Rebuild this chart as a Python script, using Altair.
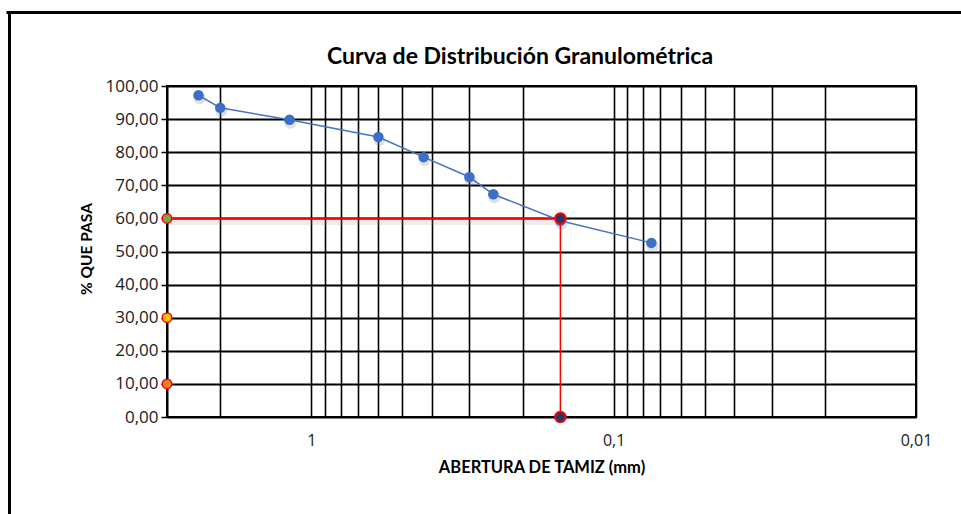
import altair as alt
import pandas as pd

# Sieve openings (mm) and % passing
sizes = [2.36, 2.0, 1.18, 0.6, 0.425, 0.30, 0.25, 0.15, 0.075]
passing = [97.2, 93.4, 89.8, 84.6, 78.5, 72.5, 67.3, 59.3, 52.6]

# D60 reference
d60_size = 0.15
d60_pct = 60
axis_left = 3.0
axis_right = 0.01

# reference markers on the left axis
ref_pct = [60, 30, 10]
ref_fill = ["#70AD47", "#FFC000", "#ED7D31"]

x_grid = [2, 1, 0.9, 0.8, 0.7, 0.6, 0.5, 0.4, 0.3, 0.2,
          0.1, 0.09, 0.08, 0.07, 0.06, 0.05, 0.04, 0.03, 0.02, 0.01]
y_ticks = list(range(0, 101, 10))

FONT = "Lato"
LFONT = "Open Sans"
W, H = 749, 331

x_enc = alt.X(
    "size:Q",
    scale=alt.Scale(type="log", domain=[axis_right, axis_left], reverse=True, nice=False),
    axis=alt.Axis(
        values=x_grid,
        labelExpr="datum.value == 1 ? '1' : datum.value == 0.1 ? '0,1' : datum.value == 0.01 ? '0,01' : ''",
        grid=True, gridColor="black", gridWidth=1.6, gridOpacity=1,
        ticks=False, tickSize=0, domain=False,
        labelFont=LFONT, labelFontSize=16, labelColor="#1a1a1a", labelPadding=15,
        labelFlush=False, labelOverlap=False,
        title="ABERTURA DE TAMIZ  (mm)", titleFont=FONT, titleFontSize=16.5,
        titleFontWeight="bold", titleColor="black", titleY=50, titleBaseline="middle",
    ),
)

y_enc = alt.Y(
    "pct:Q",
    scale=alt.Scale(domain=[0, 100], nice=False),
    axis=alt.Axis(
        values=y_ticks,
        labelExpr="replace(format(datum.value, '.2f'), '.', ',')",
        grid=True, gridColor="black", gridWidth=2, gridOpacity=1,
        tickSize=6, tickColor="black", tickWidth=1.5,
        domainColor="black", domainWidth=2,
        labelFont=LFONT, labelFontSize=17, labelColor="#1a1a1a", labelPadding=3,
        title="% QUE PASA", titleFont=FONT, titleFontSize=15.5,
        titleFontWeight="bold", titleColor="black",
        titleX=-81, titleY=H / 2 - 3, titleBaseline="middle", titleAngle=-90,
    ),
)

curve_df = pd.DataFrame({"size": sizes, "pct": passing})
ref_df = pd.DataFrame({"size": [axis_left] * len(ref_pct), "pct": ref_pct, "fill": ref_fill})
d60_df = pd.DataFrame({"size": [d60_size, d60_size], "pct": [d60_pct, 0]})
hline_df = pd.DataFrame({"size": [axis_left], "size2": [d60_size], "pct": [d60_pct]})
vline_df = pd.DataFrame({"size": [d60_size], "pct": [d60_pct], "pct2": [0]})

curve_line = alt.Chart(curve_df).mark_line(color="#4472C4", strokeWidth=1.5).encode(x=x_enc, y=y_enc)
curve_shadow = alt.Chart(curve_df).mark_circle(color="#888", opacity=0.25, size=150, yOffset=3, xOffset=1).encode(x=x_enc, y=y_enc)
curve_pts = alt.Chart(curve_df).mark_circle(color="#3B6FC8", opacity=1, size=110).encode(x=x_enc, y=y_enc)

hline = alt.Chart(hline_df).mark_rule(color="#FF0000", strokeWidth=2).encode(x=x_enc, x2="size2:Q", y=y_enc)
hline_shadow = alt.Chart(hline_df).mark_rule(color="#999", strokeWidth=5, opacity=0.18, yOffset=4).encode(x=x_enc, x2="size2:Q", y=y_enc)
vline = alt.Chart(vline_df).mark_rule(color="#FF0000", strokeWidth=1.5).encode(x=x_enc, y=y_enc, y2="pct2:Q")

d60_pts = alt.Chart(d60_df).mark_point(filled=True, fill="#1F3A6E", stroke="#FF0000", strokeWidth=2, size=110, opacity=1).encode(x=x_enc, y=y_enc)
ref_pts = alt.Chart(ref_df).mark_point(filled=True, stroke="#FF0000", strokeWidth=1.5, size=90, opacity=1).encode(
    x=x_enc, y=y_enc, fill=alt.Fill("fill:N", scale=None)
)

title = alt.Chart(pd.DataFrame({"t": ["Curva de Distribución Granulométrica"]})).mark_text(
    font=FONT, fontSize=23, fontWeight="bold", color="black", baseline="middle", align="center"
).encode(text="t:N", x=alt.value(353), y=alt.value(-29))

frame_top = alt.Chart(pd.DataFrame({"a": [0]})).mark_rule(color="black", strokeWidth=3).encode(
    x=alt.value(-160.5), x2=alt.value(800), y=alt.value(-73.5)
)
frame_left = alt.Chart(pd.DataFrame({"a": [0]})).mark_rule(color="black", strokeWidth=3).encode(
    x=alt.value(-157.5), y=alt.value(-75), y2=alt.value(440)
)

chart = alt.layer(
    hline_shadow, curve_line, curve_shadow, curve_pts, hline, vline, d60_pts, ref_pts,
    title, frame_top, frame_left,
).properties(
    width=W, height=H,
    autosize=alt.AutoSizeParams(type="none"),
    padding={"left": 167, "top": 86, "right": 45, "bottom": 97},
    background="white",
).configure_view(stroke="black", strokeWidth=2)

chart.save("out.html", embed_options={"renderer": "svg", "actions": False})
